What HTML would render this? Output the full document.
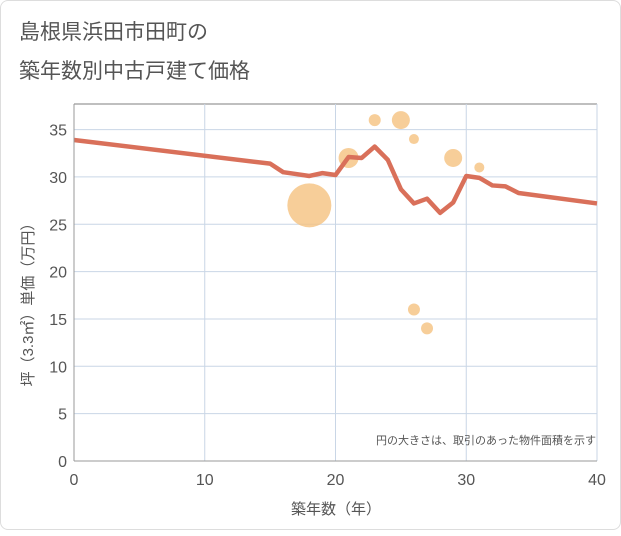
<!DOCTYPE html>
<html><head><meta charset="utf-8"><style>
body{margin:0;background:#fff;font-family:"Liberation Sans","Noto Sans CJK JP",sans-serif}
#card{position:absolute;left:0;top:0;width:619px;height:528px;border:1px solid #ddd;border-radius:8px;background:#fff}
</style></head><body>
<div id="card">
<svg width="621" height="530">
<text x="18" y="38" font-size="21" fill="#555">島根県浜田市田町の</text>
<text x="18" y="77" font-size="21" fill="#555">築年数別中古戸建て価格</text>
<g id="grid"></g><g id="bubbles"></g><g id="line"></g><g id="axes"></g>
<text x="595" y="443" font-size="11" fill="#555" text-anchor="end">円の大きさは、取引のあった物件面積を示す</text>
<text x="335" y="513" font-size="15" fill="#555" text-anchor="middle">築年数（年）</text>
<text transform="translate(32,300) rotate(-90)" font-size="15" fill="#555" text-anchor="middle">坪（3.3㎡）単価（万円）</text>
</svg></div>
<script>
const xTicks=[0,10,20,30,40];
const yTicks=[0,5,10,15,20,25,30,35];
const lineX=[0,15,16,17,18,19,20,21,22,23,24,25,26,27,28,29,30,31,32,33,34,40];
const lineY=[33.9,31.4,30.5,30.3,30.1,30.4,30.2,32.1,32,33.2,31.8,28.7,27.2,27.7,26.2,27.3,30.1,29.9,29.1,29,28.3,27.2];
const bubX=[18,21,23,25,26,29,31,26,27];
const bubY=[27,32,36,36,34,32,31,16,14];
const bubR=[22,10,6,9,5,9,5,6,6];
const NS='http://www.w3.org/2000/svg';
const X0=73,X1=596,Y0=460,Y1=103,YMAX=37.7;
const sx=v=>X0+(v-0)/40*(X1-X0);
const sy=v=>Y0-v/YMAX*(Y0-Y1);
function mk(tag,attrs,parent){const e=document.createElementNS(NS,tag);for(const k in attrs)e.setAttribute(k,attrs[k]);document.getElementById(parent).appendChild(e);return e;}
mk('rect',{x:X0,y:Y1,width:X1-X0,height:Y0-Y1,fill:'#fff',stroke:'none'},'grid');
mk('line',{x1:X0,x2:X1,y1:Y1,y2:Y1,stroke:'#aaa','stroke-width':1.5},'grid');
yTicks.forEach(t=>{const l=mk('line',{x1:X0,x2:X1,y1:sy(t),y2:sy(t),stroke:'#c9d6e6'},'grid');


const tx=mk('text',{x:66,y:sy(t)+6,'font-size':16,fill:'#555','text-anchor':'end'},'axes');tx.textContent=t;

});
xTicks.forEach(t=>{const l=mk('line',{x1:sx(t),x2:sx(t),y1:Y1,y2:Y0,stroke:'#c9d6e6'},'grid');


const tx=mk('text',{x:sx(t),y:484,'font-size':16,fill:'#555','text-anchor':'middle'},'axes');tx.textContent=t;

});
mk('line',{x1:X0,x2:X0,y1:Y1,y2:Y0,stroke:'#999'},'axes');
mk('line',{x1:X0,x2:X1,y1:Y0,y2:Y0,stroke:'#999'},'axes');
bubX.forEach((v,i)=>{const c=mk('circle',{cx:sx(v),cy:sy(bubY[i]),r:bubR[i],fill:'#f5c27f','fill-opacity':0.8},'bubbles');

});
const p=mk('polyline',{points:lineX.map((v,i)=>sx(v)+','+sy(lineY[i])).join(' '),fill:'none',stroke:'#d9705a','stroke-width':4.5,'stroke-linejoin':'round'},'line');


</script></body></html>
